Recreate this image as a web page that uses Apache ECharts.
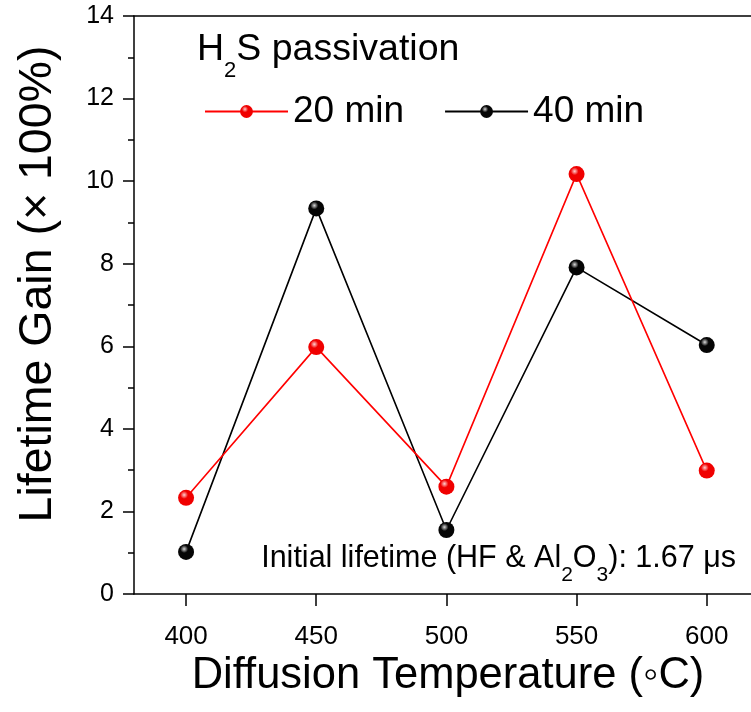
<!DOCTYPE html>
<html>
<head>
<meta charset="utf-8">
<script src="https://cdn.jsdelivr.net/npm/echarts@6/dist/echarts.min.js"></script>
<style>
html,body{margin:0;padding:0;background:#fff;}
#c{width:751px;height:712px;}
</style>
</head>
<body>
<div id="c"></div>
<script>
var temperatures = [400, 450, 500, 550, 600];
var gain20 = [2.33, 5.98, 2.6, 10.17, 2.99];
var gain40 = [1.02, 9.34, 1.55, 7.91, 6.03];
var xTickValues = [400, 450, 500, 550, 600];
var yTickValues = [0, 2, 4, 6, 8, 10, 12, 14];

var FONT = '"Liberation Sans", Arial, sans-serif';

function sphere(base, light) {
  return {
    type: 'radial', x: 0.38, y: 0.32, r: 0.7,
    colorStops: [
      {offset: 0, color: light},
      {offset: 0.35, color: base},
      {offset: 1, color: base}
    ]
  };
}

var chart = echarts.init(document.getElementById('c'), null, {renderer: 'canvas'});
chart.setOption({
  backgroundColor: '#fff',
  animation: false,
  grid: {left: 134, right: 0, top: 16, bottom: 118, outerBoundsMode: 'none', containLabel: false},
  legend: {
    left: 199, top: 88,
    itemWidth: 83, itemHeight: 16, itemGap: 40,
    textStyle: {fontFamily: FONT, fontSize: 37, color: '#000'},
    data: ['20 min', '40 min']
  },
  xAxis: [{
    type: 'value', min: 380, max: 617,
    axisLine: {show: true, lineStyle: {color: '#000', width: 1.5}},
    axisTick: {show: true, inside: false, length: 12, lineStyle: {color: '#000', width: 1.5}, customValues: xTickValues},
    axisLabel: {fontFamily: FONT, fontSize: 26, color: '#000', margin: 30, customValues: xTickValues},
    splitLine: {show: false}
  }, {
    type: 'value', position: 'top', min: 380, max: 617,
    axisLine: {show: true, lineStyle: {color: '#000', width: 1.5}},
    axisTick: {show: false}, axisLabel: {show: false}, splitLine: {show: false}
  }],
  yAxis: {
    type: 'value', min: 0, max: 14, interval: 2,
    axisLine: {show: true, lineStyle: {color: '#000', width: 1.5}},
    axisTick: {show: true, inside: false, length: 11, lineStyle: {color: '#000', width: 1.5}},
    minorTick: {show: true, splitNumber: 2, length: 6, lineStyle: {color: '#000', width: 1.5}},
    axisLabel: {fontFamily: FONT, fontSize: 25, color: '#000', margin: 20},
    splitLine: {show: false}
  },
  graphic: [
    {
      type: 'text', left: 197, top: 31, z: 10,
      style: {
        text: '{n|H}{s|2}{n|S passivation}',
        rich: {
          n: {fontFamily: FONT, fontSize: 37.5, fill: '#000', verticalAlign: 'bottom', padding: [0, 0, 13, 0]},
          s: {fontFamily: FONT, fontSize: 22, fill: '#000', verticalAlign: 'bottom'}
        }
      }
    },
    {
      type: 'text', right: 15, top: 543, z: 10,
      style: {
        text: '{n|Initial lifetime (HF & Al}{s|2}{n|O}{s|3}{n|): 1.67 \u03BCs}',
        rich: {
          n: {fontFamily: FONT, fontSize: 30.5, fill: '#000', verticalAlign: 'bottom', padding: [0, 0, 12, 0]},
          s: {fontFamily: FONT, fontSize: 21, fill: '#000', verticalAlign: 'bottom'}
        }
      }
    },
    {
      type: 'text', x: 38, y: 284, rotation: Math.PI / 2, z: 10,
      style: {
        text: 'Lifetime Gain (\u00D7 100%)',
        fontFamily: FONT, fontSize: 46.5, fill: '#000',
        align: 'center', verticalAlign: 'middle'
      }
    },
    {
      type: 'text', x: 448, y: 676, z: 10,
      style: {
        text: 'Diffusion Temperature (\u25E6C)',
        fontFamily: FONT, fontSize: 43.5, fill: '#000',
        align: 'center', verticalAlign: 'middle'
      }
    }
  ],
  series: [
    {
      name: '20 min', type: 'line',
      data: temperatures.map(function (t, i) { return [t, gain20[i]]; }),
      symbol: 'circle', symbolSize: 16,
      lineStyle: {color: '#ff0000', width: 1.6},
      itemStyle: {color: sphere('#f00000', '#ffd0d0')},
      z: 3
    },
    {
      name: '40 min', type: 'line',
      data: temperatures.map(function (t, i) { return [t, gain40[i]]; }),
      symbol: 'circle', symbolSize: 16,
      lineStyle: {color: '#000', width: 1.6},
      itemStyle: {color: sphere('#050505', '#d8d8d8')},
      z: 2
    }
  ]
});
</script>
</body>
</html>
